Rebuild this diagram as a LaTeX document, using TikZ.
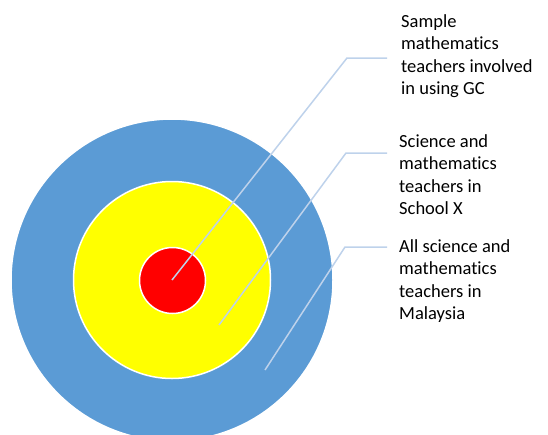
\documentclass[tikz,border=0pt]{standalone}
\usepackage{fontspec}
\setmainfont{Carlito}[Ligatures=CommonOff]
\definecolor{ringblue}{RGB}{91,155,213}
\definecolor{ringyellow}{RGB}{255,255,0}
\definecolor{ringred}{RGB}{255,0,0}
\definecolor{leader}{RGB}{190,210,235}
\begin{document}
\begin{tikzpicture}[x=1pt,y=-1pt,
  ring/.style={circle,inner sep=0pt,draw=white,line width=1.5pt},
  leaderline/.style={draw=leader,line width=1.5pt},
  label/.style={anchor=north west,inner sep=0pt,align=left,font=\fontsize{18.5}{22.5}\selectfont,text=black}]
\useasboundingbox (0,0) rectangle (548,434);
\node[ring,fill=ringblue,minimum size=322pt] (blue) at (172,280) {};
\node[ring,fill=ringyellow,minimum size=197pt] (yellow) at (172,280) {};
\node[ring,fill=ringred,minimum size=66pt] (red) at (172.5,280.5) {};
\coordinate (p1) at (172,280);
\coordinate (k1) at (347,58);
\coordinate (e1) at (387,58);
\coordinate (p2) at (219,325);
\coordinate (k2) at (346,153);
\coordinate (e2) at (387,153);
\coordinate (p3) at (265,370);
\coordinate (k3) at (345,247);
\coordinate (e3) at (387,247);
\draw[leaderline] (p1) -- (k1) -- (e1);
\draw[leaderline] (p2) -- (k2) -- (e2);
\draw[leaderline] (p3) -- (k3) -- (e3);
\node[label] (t1) at (401,14) {Sample\\mathematics\\teachers involved\\in using GC};
\node[label] (t2) at (399,134) {Science and\\mathematics\\teachers in\\School X};
\node[label] (t3) at (399,239) {All science and\\mathematics\\teachers in\\Malaysia};
\end{tikzpicture}
\end{document}
